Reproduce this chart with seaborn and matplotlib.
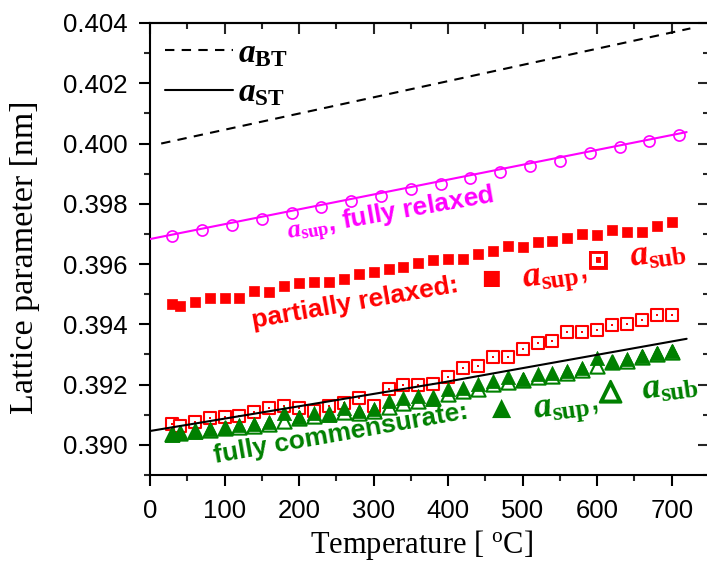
import seaborn as sns
import matplotlib.pyplot as plt
import matplotlib.patheffects as pe
from matplotlib.ticker import MultipleLocator, FormatStrFormatter

# Lineas de referencia (aBT, aST) y ajuste de la capa relajada
bt_T = [15, 725]
bt_a = [0.40000, 0.40382]
st_T = [0, 390, 720]
st_a = [0.39046, 0.39206, 0.39352]
fit_T = [0, 720]
fit_a = [0.39683, 0.40038]

# a_sup, totalmente relajado (circulos magenta)
rel_T = [30, 70, 110, 150, 190, 230, 270, 310, 350, 390, 430, 470, 510, 550, 590, 630, 670, 710]
rel_a = [0.39693, 0.39713, 0.39731, 0.39751, 0.39769, 0.39789, 0.39810, 0.39827, 0.39848,
         0.39866, 0.39885, 0.39907, 0.39926, 0.39943, 0.39968, 0.39987, 0.40008, 0.40028]

# Temperaturas de medida
temps = [30, 40, 60, 80, 100, 120, 140, 160, 180, 200, 220, 240, 260, 280, 300, 320, 340, 360,
         380, 400, 420, 440, 460, 480, 500, 520, 540, 560, 580, 600, 620, 640, 660, 680, 700]

# parcialmente relajado
part_sup = [0.39467, 0.39461, 0.39473, 0.39487, 0.39489, 0.39489, 0.39509, 0.39507, 0.39528,
            0.39538, 0.39542, 0.39542, 0.39551, 0.39567, 0.39575, 0.39584, 0.39591, 0.39604,
            0.39613, 0.39617, 0.39617, 0.39633, 0.39642, 0.39659, 0.39657, 0.39672, 0.39678,
            0.39686, 0.39700, 0.39698, 0.39712, 0.39708, 0.39708, 0.39726, 0.39738]
part_sub = [0.39069, 0.39061, 0.39077, 0.39089, 0.39092, 0.39097, 0.39109, 0.39122, 0.39129,
            0.39122, 0.39113, 0.39128, 0.39138, 0.39155, 0.39129, 0.39185, 0.39198, 0.39200,
            0.39203, 0.39224, 0.39255, 0.39263, 0.39293, 0.39291, 0.39318, 0.39338, 0.39344,
            0.39374, 0.39374, 0.39380, 0.39397, 0.39402, 0.39413, 0.39430, 0.39430]

# totalmente conmensurado
comm_sup = [0.39033, 0.39041, 0.39044, 0.39052, 0.39057, 0.39066, 0.39070, 0.39077, 0.39105,
            0.39094, 0.39107, 0.39100, 0.39122, 0.39111, 0.39118, 0.39144, 0.39157, 0.39162,
            0.39151, 0.39184, 0.39190, 0.39201, 0.39212, 0.39224, 0.39218, 0.39235, 0.39240,
            0.39246, 0.39255, 0.39288, 0.39276, 0.39285, 0.39296, 0.39304, 0.39311]
comm_sub = [0.39036, 0.39040, 0.39045, 0.39050, 0.39055, 0.39060, 0.39061, 0.39068, 0.39080,
            0.39090, 0.39095, 0.39103, 0.39110, 0.39105, 0.39112, 0.39125, 0.39140, 0.39145,
            0.39157, 0.39168, 0.39179, 0.39184, 0.39201, 0.39207, 0.39215, 0.39224, 0.39229,
            0.39240, 0.39248, 0.39263, 0.39274, 0.39279, 0.39293, 0.39300, 0.39307]

RED = '#ff0000'
MAG = '#ff00ff'
GREEN = '#008000'

sns.set_theme(style='ticks')
plt.rcParams['font.family'] = ['Liberation Sans', 'DejaVu Sans']
plt.rcParams['text.color'] = 'black'
plt.rcParams['axes.labelcolor'] = 'black'
plt.rcParams['mathtext.fontset'] = 'custom'
plt.rcParams['mathtext.it'] = 'Liberation Serif:italic:bold'
plt.rcParams['mathtext.bf'] = 'Liberation Serif:bold'
plt.rcParams['mathtext.rm'] = 'Liberation Serif'

fig = plt.figure(figsize=(7.07, 5.65), dpi=100)
ax = fig.add_axes([150 / 707, 1 - 475 / 565, 559 / 707, 452 / 565])

# lineas
sns.lineplot(x=bt_T, y=bt_a, ax=ax, color='black', lw=1.5, linestyle=(0, (4.5, 3.5)), zorder=4)
sns.lineplot(x=st_T, y=st_a, ax=ax, color='black', lw=1.5, zorder=6)
sns.lineplot(x=fit_T, y=fit_a, ax=ax, color=MAG, lw=1.5, zorder=4)
h_bt, h_st = ax.lines[0], ax.lines[1]

# marcadores
sns.scatterplot(x=rel_T, y=rel_a, ax=ax, marker='o', s=64, color='white', edgecolor=MAG, linewidth=1.2, zorder=3)
sns.scatterplot(x=temps, y=part_sup, ax=ax, marker='s', s=56, color=RED, edgecolor=RED, linewidth=0.5, zorder=3)
sns.scatterplot(x=temps, y=part_sub, ax=ax, marker='s', s=64, color='white', edgecolor=RED, linewidth=1.5, zorder=3)
sns.scatterplot(x=temps, y=part_sub, ax=ax, marker='s', s=3, color=RED, edgecolor=RED, linewidth=0, zorder=3)
sns.scatterplot(x=temps, y=comm_sub, ax=ax, marker='^', s=105, color='white', edgecolor=GREEN, linewidth=1.5, zorder=3)
sns.scatterplot(x=temps, y=comm_sup, ax=ax, marker='^', s=105, color=GREEN, edgecolor=GREEN, linewidth=0.5, zorder=5)

ax.set_xlim(0, 750)
ax.set_ylim(0.389, 0.404)
ax.xaxis.set_major_locator(MultipleLocator(100))
ax.xaxis.set_minor_locator(MultipleLocator(50))
ax.yaxis.set_major_locator(MultipleLocator(0.002))
ax.yaxis.set_minor_locator(MultipleLocator(0.001))
ax.yaxis.set_major_formatter(FormatStrFormatter('%.3f'))
ax.tick_params(which='major', direction='out', length=8, width=1.5, labelsize=18.5, colors='black')
ax.tick_params(which='minor', direction='out', length=4.5, width=1.5)
ax.tick_params(axis='x', which='major', pad=9)
ax.tick_params(axis='y', which='major', pad=8)
for sp in ax.spines.values():
    sp.set_linewidth(1.5)
    sp.set_color('black')

# ticks hacia dentro en los ejes opuestos
top = ax.secondary_xaxis('top')
top.xaxis.set_major_locator(MultipleLocator(100))
top.xaxis.set_minor_locator(MultipleLocator(50))
top.tick_params(which='both', direction='in', labeltop=False, width=1.5)
top.tick_params(which='major', length=8)
top.tick_params(which='minor', length=4.5)
right = ax.secondary_yaxis('right')
right.yaxis.set_major_locator(MultipleLocator(0.002))
right.yaxis.set_minor_locator(MultipleLocator(0.001))
right.tick_params(which='both', direction='in', labelright=False, width=1.5)
right.tick_params(which='major', length=8)
right.tick_params(which='minor', length=4.5)
for s in [top, right]:
    for sp in s.spines.values():
        sp.set_linewidth(1.5)

ax.set_xlabel('Temperature [ $^{\\mathrm{o}}$C]', fontfamily='Liberation Serif', fontsize=22)
ax.set_ylabel('Lattice parameter [nm]', fontfamily='Liberation Serif', fontsize=24.5)
ax.xaxis.set_label_coords(0.485, -0.118)
ax.yaxis.set_label_coords(-0.197, 0.482)

ax.legend([h_bt, h_st], ['$a_{\\mathbf{BT}}$', '$a_{\\mathbf{ST}}$'], loc='upper left', frameon=False,
          fontsize=24, handlelength=2.05, handletextpad=0.15, labelspacing=0.25,
          borderaxespad=0.15, borderpad=0.3)

# anotaciones
bold = dict(fontfamily='Liberation Sans', fontweight='bold', fontsize=19,
            rotation=10, rotation_mode='anchor', ha='left', va='baseline')
ax.text(185, 0.39680, '$a_{\\mathbf{sup}}$, fully relaxed', color=MAG, **bold)
ax.text(138, 0.39388, 'partially relaxed:', color=RED, **bold)
ax.text(87, 0.38940, 'fully commensurate:', color=GREEN, **bold)

sym = dict(fontfamily='DejaVu Sans', fontweight='bold', ha='center', va='center')
lab = dict(fontsize=26, rotation=8, rotation_mode='anchor', ha='left', va='baseline')
ax.text(457, 0.39554, '\u25a0', color=RED, fontsize=15, **sym)
ax.text(501, 0.39524, '$a_{\\mathbf{sup}}$,', color=RED, **lab)
ax.text(601, 0.39610, '\u22a1', color=RED, fontsize=19, **sym,
        path_effects=[pe.withStroke(linewidth=0.6, foreground=RED)])
ax.text(646, 0.39591, '$a_{\\mathbf{sub}}$', color=RED, **lab)
ax.text(471, 0.39123, '\u25b2', color=GREEN, fontsize=18, **sym)
ax.text(516, 0.39090, '$a_{\\mathbf{sup}}$,', color=GREEN, **lab)
ax.text(618, 0.39179, '\u25b3', color=GREEN, fontsize=20, **sym,
        path_effects=[pe.withStroke(linewidth=1.8, foreground=GREEN)])
ax.text(662, 0.39148, '$a_{\\mathbf{sub}}$', color=GREEN, **lab)

fig.savefig('out.png', dpi=100)
